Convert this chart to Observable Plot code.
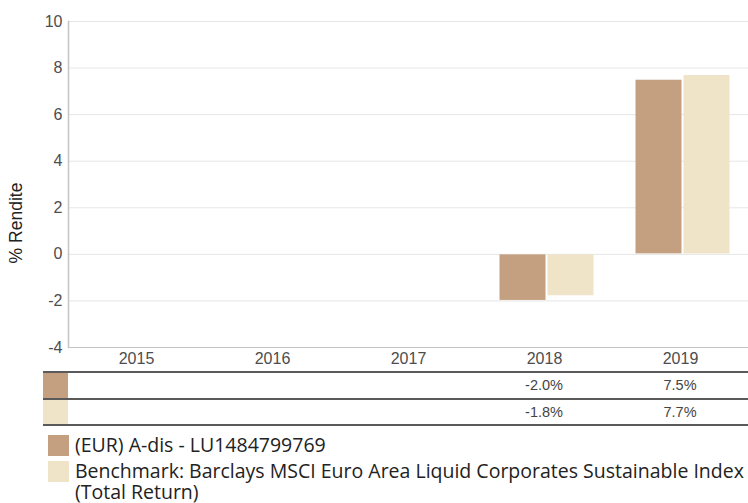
<!DOCTYPE html>
<html>
<head>
<meta charset="utf-8">
<script src="https://cdn.jsdelivr.net/npm/d3@7"></script>
<script src="https://cdn.jsdelivr.net/npm/@observablehq/plot@0.6"></script>
<style>
  html, body { margin: 0; padding: 0; background: #fff; }
  #wrap { position: relative; width: 748px; height: 503px; overflow: hidden; }
  #chart { position: absolute; left: 0; top: 0; }
  #ylabel { position: absolute; left: 17px; top: 223px; transform: translate(-50%, -50%) rotate(-90deg);
    font-family: "Liberation Sans", Arial, sans-serif; font-size: 17.5px; color: #222; white-space: nowrap; line-height: 1; }
  #table { position: absolute; left: 43px; top: 371px; border-collapse: collapse; table-layout: fixed;
    font-family: "Liberation Sans", Arial, sans-serif; font-size: 14.5px; color: #444; }
  #table td { height: 24.5px; padding: 0; text-align: center; border-top: 2px solid #5a5a5a; border-bottom: 2px solid #5a5a5a; }
  #legend { position: absolute; left: 48px; top: 434px; font-family: "Open Sans", sans-serif; font-size: 19.5px; color: #222; }
  .item { display: flex; align-items: flex-start; margin-bottom: 4px; }
  .sw { width: 21px; height: 21px; flex: none; margin-right: 6px; margin-top: 1px; }
  .txt { width: 673px; line-height: 21px; }
</style>
</head>
<body>
<div id="wrap">
  <div id="chart"></div>
  <div id="ylabel"></div>
  <table id="table"></table>
  <div id="legend"></div>
</div>
<script>
// ---- data ----
const years = ["2015", "2016", "2017", "2018", "2019"];
const fundValues = [null, null, null, -2.0, 7.5];
const benchValues = [null, null, null, -1.8, 7.7];
const seriesKeys = ["fund", "bench"];
const seriesNames = [
  "(EUR) A-dis - LU1484799769",
  "Benchmark: Barclays MSCI Euro Area Liquid Corporates Sustainable Index (Total Return)"
];
const seriesColors = ["#c4a080", "#efe3c8"];
const yTicks = [-4, -2, 0, 2, 4, 6, 8, 10];
const yLabel = "% Rendite";

// ---- long table: every year appears (empty years keep their facet) ----
const rows = [];
years.forEach((yr, i) => {
  rows.push({year: yr, key: "fund", value: fundValues[i]});
  rows.push({year: yr, key: "bench", value: benchValues[i]});
});

const chart = Plot.plot({
  width: 748,
  height: 372,
  marginLeft: 68,
  marginRight: 0,
  marginTop: 21,
  marginBottom: 25,
  style: {fontFamily: "'Liberation Sans', Arial, sans-serif", fontSize: "16px", color: "#4d4d4d", background: "transparent", overflow: "visible"},
  fx: {domain: years, paddingInner: 0, paddingOuter: 0, label: null},
  x: {domain: seriesKeys, paddingOuter: 0.417, paddingInner: 0.02, align: 0.55, axis: null},
  y: {domain: [-4, 10], label: null},
  color: {domain: seriesKeys, range: seriesColors},
  marks: [
    Plot.gridY(yTicks, {stroke: "#e6e6e6", strokeOpacity: 1}),
    Plot.axisY(yTicks, {tickSize: 0, tickPadding: 6, label: null, tickFormat: d => String(d)}),
    Plot.axisFx({anchor: "bottom", tickSize: 0, tickPadding: 5, label: null}),
    Plot.ruleY([-4], {stroke: "#c4c4c4", strokeWidth: 1.2}),
    Plot.frame({anchor: "left", facetAnchor: "left", stroke: "#c4c4c4", strokeWidth: 1.5}),
    Plot.barY(rows, {fx: "year", x: "key", y: "value", fill: "key", inset: 0.5})
  ]
});
document.getElementById("chart").appendChild(chart);
document.getElementById("ylabel").textContent = yLabel;

// table
const table = d3.select("#table");
const colgroup = table.append("colgroup");
colgroup.append("col").style("width", "25px");
years.forEach(() => colgroup.append("col").style("width", "136px"));
[fundValues, benchValues].forEach((vals, si) => {
  const tr = table.append("tr");
  tr.append("td").style("background", seriesColors[si]);
  vals.forEach(v => tr.append("td").text(v == null ? "" : v.toFixed(1) + "%"));
});

// legend
const legend = d3.select("#legend");
seriesNames.forEach((name, i) => {
  const it = legend.append("div").attr("class", "item");
  it.append("div").attr("class", "sw").style("background", seriesColors[i]);
  it.append("div").attr("class", "txt").text(name);
});
</script>
</body>
</html>
